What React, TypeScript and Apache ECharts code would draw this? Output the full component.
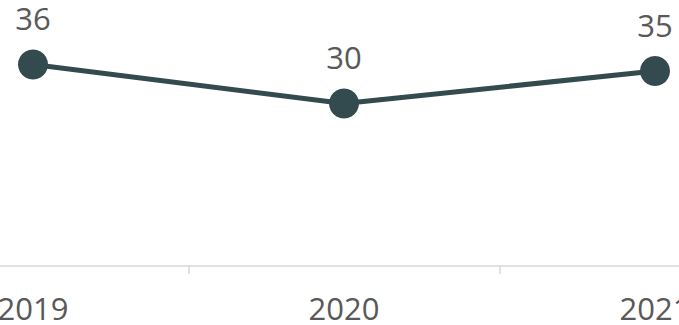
import React, { useEffect, useRef } from "react";
import * as echarts from "echarts";

const categories = ["2019", "2020", "2021"];
const values = [36, 30, 35];

export default function App() {
  const ref = useRef<HTMLDivElement>(null);
  useEffect(() => {
    if (!ref.current) return;
    const chart = echarts.init(ref.current, undefined, { renderer: "svg" });
    chart.setOption({
      animation: false,
      backgroundColor: "#ffffff",
      grid: {
        left: 77.5,
        right: 89.5,
        top: 38.5,
        bottom: 59,
        containLabel: false,
        outerBoundsMode: "none",
      },
      xAxis: {
        type: "category",
        data: categories,
        boundaryGap: true,
        axisLine: { show: true, lineStyle: { color: "#d9d9d9", width: 1.5 } },
        axisTick: { show: true, length: 8, alignWithLabel: false, lineStyle: { color: "#d9d9d9", width: 1.5 } },
        axisLabel: {
          margin: 26,
          fontSize: 31,
          color: "#595959",
          fontFamily: "Open Sans",
          interval: 0,
        },
        splitLine: { show: false },
      },
      yAxis: {
        type: "value",
        min: 5,
        max: 40,
        show: false,
        splitLine: { show: false },
      },
      series: [
        {
          type: "line",
          data: values,
          symbol: "circle",
          symbolSize: 30,
          lineStyle: { color: "#334a4f", width: 5 },
          itemStyle: { color: "#334a4f" },
          label: {
            show: true,
            position: "top",
            distance: 16,
            fontSize: 31,
            color: "#595959",
            fontFamily: "Open Sans",
          },
        },
      ],
    });
    return () => chart.dispose();
  }, []);
  return (
    <div
      style={{
        position: "fixed",
        left: 0,
        top: 0,
        width: 679,
        height: 325,
        overflow: "hidden",
        background: "#ffffff",
      }}
    >
      <div
        ref={ref}
        style={{ position: "absolute", left: -200, top: 0, width: 1100, height: 325 }}
      />
    </div>
  );
}
